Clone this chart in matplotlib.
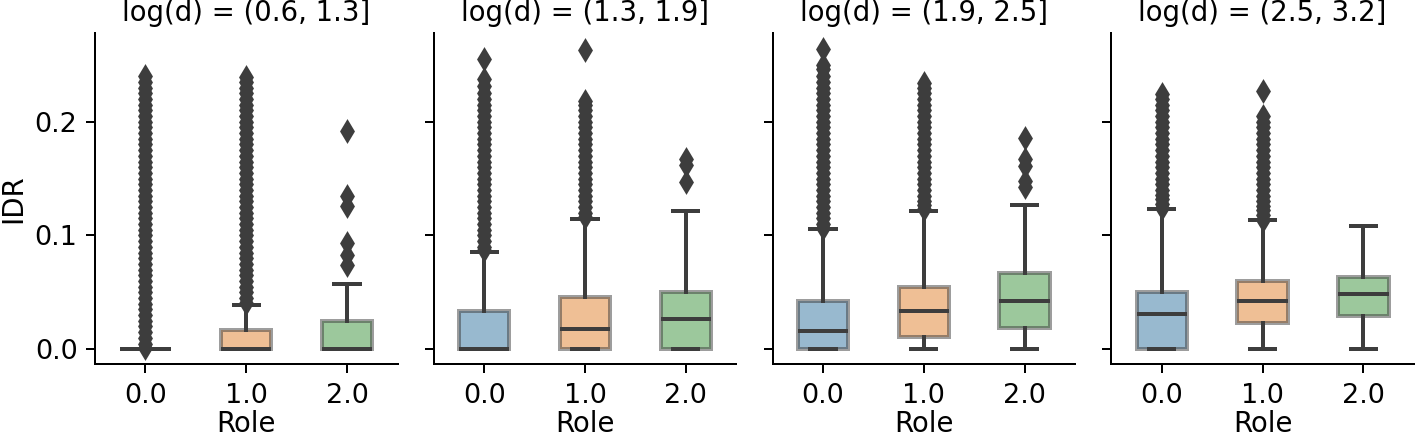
import matplotlib
matplotlib.use("Agg")
import matplotlib.pyplot as plt
import seaborn as sns

titles = ["log(d) = (0.6, 1.3]", "log(d) = (1.3, 1.9]",
          "log(d) = (1.9, 2.5]", "log(d) = (2.5, 3.2]"]
roles = ["0.0", "1.0", "2.0"]

# box stats per panel, one value per role
q1 = [[0, 0, 0], [0, 0, 0], [0, 0.0106, 0.019], [0, 0.0234, 0.0296]]
med = [[0, 0, 0], [0, 0.018, 0.0267], [0.0164, 0.034, 0.0428], [0.031, 0.0428, 0.0487]]
q3 = [[0, 0.017, 0.025], [0.034, 0.0463, 0.050], [0.0428, 0.0546, 0.0674], [0.050, 0.0604, 0.0634]]
whislo = [[0, 0, 0], [0, 0, 0], [0, 0, 0], [0, 0, 0]]
whishi = [[0, 0.039, 0.0575], [0.0853, 0.1144, 0.1217], [0.1056, 0.1217, 0.127], [0.123, 0.1132, 0.1085]]

# outliers
fliers_p1 = [
    [0.001, 0.005, 0.01, 0.015, 0.02, 0.025, 0.03, 0.035, 0.04, 0.045, 0.05, 0.055,
     0.06, 0.065, 0.07, 0.075, 0.08, 0.085, 0.09, 0.095, 0.1, 0.105, 0.11, 0.115,
     0.12, 0.125, 0.13, 0.135, 0.14, 0.145, 0.15, 0.155, 0.16, 0.165, 0.17, 0.175,
     0.18, 0.185, 0.19, 0.195, 0.2, 0.205, 0.21, 0.215, 0.22, 0.225, 0.23, 0.235, 0.24],
    [0.041, 0.045, 0.05, 0.055, 0.06, 0.065, 0.07, 0.075, 0.08, 0.085, 0.09, 0.095,
     0.1, 0.105, 0.11, 0.115, 0.12, 0.125, 0.13, 0.135, 0.14, 0.145, 0.15, 0.155,
     0.16, 0.165, 0.17, 0.175, 0.18, 0.185, 0.19, 0.195, 0.2, 0.205, 0.21, 0.215,
     0.22, 0.225, 0.23, 0.235, 0.239],
    [0.192, 0.135, 0.126, 0.093, 0.083, 0.074],
]
fliers_p2 = [
    [0.087, 0.09, 0.095, 0.1, 0.105, 0.11, 0.115, 0.12, 0.125, 0.13, 0.135, 0.14,
     0.145, 0.15, 0.155, 0.16, 0.165, 0.17, 0.175, 0.18, 0.185, 0.19, 0.195, 0.2,
     0.205, 0.21, 0.215, 0.22, 0.225, 0.231, 0.238, 0.255],
    [0.116, 0.12, 0.125, 0.13, 0.135, 0.14, 0.145, 0.15, 0.155, 0.16, 0.165, 0.17,
     0.175, 0.18, 0.185, 0.19, 0.195, 0.2, 0.205, 0.21, 0.215, 0.218, 0.263],
    [0.167, 0.162, 0.147],
]
fliers_p3 = [
    [0.107, 0.11, 0.115, 0.12, 0.125, 0.13, 0.135, 0.14, 0.145, 0.15, 0.155, 0.16,
     0.165, 0.17, 0.175, 0.18, 0.185, 0.19, 0.195, 0.2, 0.205, 0.21, 0.215, 0.22,
     0.225, 0.23, 0.235, 0.24, 0.246, 0.25, 0.264],
    [0.123, 0.127, 0.13, 0.135, 0.14, 0.145, 0.15, 0.155, 0.16, 0.165, 0.17, 0.175,
     0.18, 0.185, 0.19, 0.195, 0.2, 0.205, 0.21, 0.215, 0.22, 0.225, 0.23, 0.234],
    [0.186, 0.167, 0.161, 0.148, 0.143],
]
fliers_p4 = [
    [0.124, 0.128, 0.132, 0.136, 0.14, 0.145, 0.15, 0.155, 0.16, 0.165, 0.17, 0.175,
     0.18, 0.185, 0.19, 0.195, 0.2, 0.205, 0.21, 0.215, 0.22, 0.224],
    [0.114, 0.118, 0.122, 0.126, 0.13, 0.135, 0.14, 0.145, 0.15, 0.155, 0.16, 0.165,
     0.17, 0.175, 0.18, 0.185, 0.19, 0.195, 0.2, 0.205, 0.227],
    [],
]
fliers = [fliers_p1, fliers_p2, fliers_p3, fliers_p4]

pal = [sns.desaturate(c, 0.75) for c in sns.color_palette()[:3]]
gray = "#3d3d3d"
lw = 1.6

plt.rcParams["xtick.labelsize"] = 10.8
plt.rcParams["ytick.labelsize"] = 10.8
plt.rcParams["xtick.major.pad"] = 4.0
plt.rcParams["ytick.major.pad"] = 3.5

fig, axes = plt.subplots(1, 4, figsize=(1416 / 180, 435 / 180), dpi=180, sharey=True)
fig.subplots_adjust(left=0.0671, right=0.9985, bottom=0.1632, top=0.9241, wspace=0.12)

for p, ax in enumerate(axes):
    stats = []
    for r in range(3):
        stats.append(dict(med=med[p][r], q1=q1[p][r], q3=q3[p][r],
                          whislo=whislo[p][r], whishi=whishi[p][r],
                          fliers=fliers[p][r]))
    art = ax.bxp(stats, positions=[0, 1, 2], widths=0.5, patch_artist=True,
                 boxprops=dict(edgecolor=gray, linewidth=lw),
                 whiskerprops=dict(color=gray, linewidth=lw),
                 capprops=dict(color=gray, linewidth=lw),
                 medianprops=dict(color=gray, linewidth=lw),
                 flierprops=dict(marker="d", markerfacecolor=gray, markeredgecolor=gray,
                                 markersize=5.5, linestyle="none"))
    for box, c in zip(art["boxes"], pal):
        box.set_facecolor(c)
        box.set_alpha(0.5)
    ax.set_xlim(-0.5, 2.5)
    ax.set_xticks([0, 1, 2])
    ax.set_xticklabels(roles)
    ax.set_xlabel("Role", fontsize=11, labelpad=0.3)
    ax.set_title(titles[p], fontsize=11, pad=4.8)
    ax.spines["top"].set_visible(False)
    ax.spines["right"].set_visible(False)

axes[0].set_ylim(-0.013, 0.278)
axes[0].set_yticks([0.0, 0.1, 0.2])
axes[0].set_ylabel("IDR", fontsize=11, labelpad=3)

fig.savefig("out.png", dpi=180)
